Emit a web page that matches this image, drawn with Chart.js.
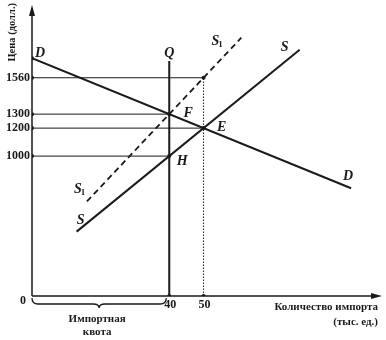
<!DOCTYPE html>
<html>
<head>
<meta charset="utf-8">
<script src="https://cdn.jsdelivr.net/npm/chart.js@4.4.1/dist/chart.umd.min.js"></script>
<style>
  html, body { margin: 0; padding: 0; background: #fff; }
  #wrap { width: 386px; height: 340px; }
</style>
</head>
<body>
<div id="wrap"><canvas id="quotaChart"></canvas></div>
<script>
// tick labels on the axes
const priceTicks = [1560, 1300, 1200, 1000];
const qtyTicks = [40, 50];

// demand D, supply S and supply under the quota S1 (тыс. ед. / долл.)
const demandD = [{x: 0, y: 1700}, {x: 93, y: 770}];
const supplyS = [{x: 13, y: 460}, {x: 78, y: 1760}];
const supplyS1 = [{x: 16, y: 676}, {x: 61, y: 1846}];
// the quota line Q
const quotaQ = [{x: 40, y: 0}, {x: 40, y: 1680}];
// quantity where each price guide stops
const guideEnds = [50, 40, 50, 40];
// named intersections
const pointNames = ['F', 'E', 'H'];
const pointValues = [{x: 40, y: 1300}, {x: 50, y: 1200}, {x: 40, y: 1000}];

const ink = '#1a1a1a';
const serif = "'Liberation Serif', 'DejaVu Serif', serif";

function lineSet(data, width, dash) {
    return {
        data: data,
        borderColor: ink,
        borderWidth: width,
        borderDash: dash || [],
        pointRadius: 0,
        showLine: true,
        fill: false,
        tension: 0
    };
}

const datasets = [
    lineSet(demandD, 2),
    lineSet(supplyS, 2),
    lineSet(supplyS1, 1.8, [6, 4]),
    lineSet(quotaQ, 2)
];

// horizontal guides from the price axis
priceTicks.forEach((p, i) => {
    datasets.push(lineSet([{x: 0, y: p}, {x: guideEnds[i], y: p}], 1));
});
// dotted guide at 50
datasets.push(lineSet([{x: qtyTicks[1], y: 0}, {x: qtyTicks[1], y: priceTicks[0]}], 1, [1.5, 1.5]));

// dots
const dots = [demandD[0], {x: qtyTicks[1], y: priceTicks[0]}]
    .concat(priceTicks.map(p => ({x: 0, y: p})))
    .concat(qtyTicks.map(q => ({x: q, y: 0})))
    .concat(pointValues);
datasets.push({
    data: dots,
    showLine: false,
    pointRadius: 2,
    pointBackgroundColor: ink,
    pointBorderWidth: 0
});

function italicLabel(ctx, txt, x, y, sub) {
    ctx.font = 'italic bold 14px ' + serif;
    ctx.textAlign = 'center';
    ctx.textBaseline = 'middle';
    ctx.fillText(txt, x, y);
    if (sub) {
        const w = ctx.measureText(txt).width;
        ctx.font = 'bold 9px ' + serif;
        ctx.textAlign = 'left';
        ctx.fillText(sub, x + w / 2 - 1, y + 3);
    }
}

const drawingPlugin = {
    id: 'drawing',
    afterDraw(chart) {
        const ctx = chart.ctx;
        const xs = chart.scales.x;
        const ys = chart.scales.y;
        const area = chart.chartArea;
        const px = v => xs.getPixelForValue(v);
        const py = v => ys.getPixelForValue(v);
        const ox = px(0), oy = py(0);

        ctx.save();
        ctx.strokeStyle = ink;
        ctx.fillStyle = ink;

        // axes with arrows
        ctx.lineWidth = 1.5;
        ctx.beginPath();
        ctx.moveTo(ox, oy);
        ctx.lineTo(ox, area.top + 8);
        ctx.moveTo(ox, oy);
        ctx.lineTo(area.right - 8, oy);
        ctx.stroke();
        ctx.beginPath();
        ctx.moveTo(ox, area.top);
        ctx.lineTo(ox - 3, area.top + 11);
        ctx.lineTo(ox + 3, area.top + 11);
        ctx.closePath();
        ctx.moveTo(area.right, oy);
        ctx.lineTo(area.right - 11, oy - 3);
        ctx.lineTo(area.right - 11, oy + 3);
        ctx.closePath();
        ctx.fill();

        // tick labels
        ctx.font = 'bold 12px ' + serif;
        ctx.textAlign = 'right';
        ctx.textBaseline = 'middle';
        priceTicks.forEach(p => ctx.fillText(String(p), ox - 2, py(p)));
        ctx.fillText('0', ox - 6, oy + 5);
        ctx.textAlign = 'center';
        qtyTicks.forEach(q => ctx.fillText(String(q), px(q) + 1, oy + 9));

        // axis titles
        ctx.font = 'bold 11px ' + serif;
        ctx.textAlign = 'right';
        ctx.fillText('Количество импорта', area.right - 4, oy + 11);
        ctx.fillText('(тыс. ед.)', area.right - 4, oy + 26);
        ctx.save();
        ctx.font = 'bold 10.5px ' + serif;
        const tw = ctx.measureText('Цена (долл.)').width;
        ctx.translate(12, 3 + tw / 2);
        ctx.rotate(-Math.PI / 2);
        ctx.textAlign = 'center';
        ctx.fillText('Цена (долл.)', 0, 0);
        ctx.restore();

        // brace under the quota
        const bl = ox, br = px(qtyTicks[0]) - 3, bm = (bl + br) / 2;
        const b0 = oy + 2, b1 = oy + 8, b2 = oy + 12;
        ctx.lineWidth = 1.3;
        ctx.beginPath();
        ctx.moveTo(bl, b0);
        ctx.quadraticCurveTo(bl, b1, bl + 6, b1);
        ctx.lineTo(bm - 6, b1);
        ctx.quadraticCurveTo(bm, b1, bm, b2);
        ctx.quadraticCurveTo(bm, b1, bm + 6, b1);
        ctx.lineTo(br - 6, b1);
        ctx.quadraticCurveTo(br, b1, br, b0);
        ctx.stroke();
        ctx.font = 'bold 11px ' + serif;
        ctx.textAlign = 'center';
        ctx.fillText('Импортная', bm - 2, oy + 23);
        ctx.fillText('квота', bm - 2, oy + 36);

        // curve and point letters
        const dEnd = demandD[demandD.length - 1];
        const sEnd = supplyS[supplyS.length - 1];
        const s1End = supplyS1[supplyS1.length - 1];
        italicLabel(ctx, 'D', px(demandD[0].x) + 8, py(demandD[0].y) - 5);
        italicLabel(ctx, 'D', px(dEnd.x) - 3, py(dEnd.y) - 12);
        italicLabel(ctx, 'S', px(sEnd.x) - 15, py(sEnd.y) - 2);
        italicLabel(ctx, 'S', px(supplyS[0].x) + 4, py(supplyS[0].y) - 11);
        italicLabel(ctx, 'S', px(s1End.x) - 26, py(s1End.y) + 4, '1');
        italicLabel(ctx, 'S', px(supplyS1[0].x) - 9, py(supplyS1[0].y) - 12, '1');
        italicLabel(ctx, 'Q', px(quotaQ[1].x), py(quotaQ[1].y) - 8);
        const offs = [[19, -1], [18, -1], [13, 5]];
        pointNames.forEach((n, i) => {
            italicLabel(ctx, n, px(pointValues[i].x) + offs[i][0], py(pointValues[i].y) + offs[i][1]);
        });

        ctx.restore();
    }
};

new Chart(document.getElementById('quotaChart'), {
    type: 'line',
    data: { datasets: datasets },
    options: {
        responsive: true,
        maintainAspectRatio: false,
        animation: false,
        layout: { padding: { left: 32, right: 4, top: 5, bottom: 44 } },
        plugins: { legend: { display: false }, tooltip: { enabled: false } },
        scales: {
            x: { type: 'linear', min: 0, max: 102, display: false },
            y: { type: 'linear', min: 0, max: 2080, display: false }
        }
    },
    plugins: [drawingPlugin]
});
</script>
</body>
</html>
